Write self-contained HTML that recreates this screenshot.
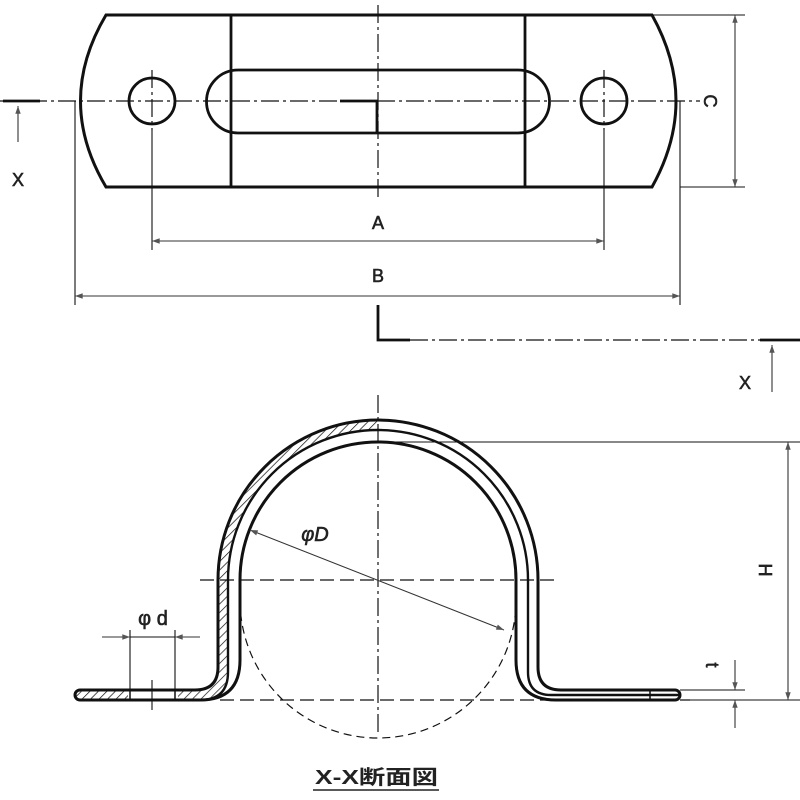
<!DOCTYPE html>
<html><head><meta charset="utf-8"><style>body{margin:0;background:#fff}svg{display:block}</style></head>
<body>
<svg width="800" height="800" viewBox="0 0 800 800" xmlns="http://www.w3.org/2000/svg" font-family="Liberation Sans, sans-serif">
<defs>
<marker id="a" viewBox="0 0 10 10" refX="10" refY="5" markerWidth="9" markerHeight="7" orient="auto-start-reverse"><path d="M0,1.5 L10,5 L0,8.5z" fill="#555"/></marker>
<pattern id="h" width="6" height="6" patternUnits="userSpaceOnUse" patternTransform="rotate(45)"><line x1="0" y1="0" x2="0" y2="6" stroke="#111" stroke-width="1.4"/></pattern>
</defs>
<g fill="none" stroke="#111">
<path d="M106,15 L652,15 Q700,101 652,187 L106,187 Q55,101 106,15Z" stroke-width="3"/>
<line x1="231" y1="15" x2="231" y2="187" stroke-width="2.8"/>
<line x1="525" y1="15" x2="525" y2="187" stroke-width="2.8"/>
<path d="M238,70 L518,70 A31.5,31.5 0 0 1 518,133 L238,133 A31.5,31.5 0 0 1 238,70Z" stroke-width="2.8"/>
<circle cx="152" cy="101" r="23" stroke-width="2.8"/>
<circle cx="604" cy="101" r="23" stroke-width="2.8"/>
<path d="M340,101 L377,101 L377,133" stroke-width="2.8"/>
<g stroke-width="1.2" stroke-dasharray="18,4,3,4">
<line x1="0" y1="101" x2="700" y2="101"/>
<line x1="378" y1="5" x2="378" y2="200"/>
<line x1="152" y1="70" x2="152" y2="130"/>
<line x1="604" y1="70" x2="604" y2="130"/>
<line x1="410" y1="340" x2="770" y2="340"/>
</g>
<g stroke-width="1.1">
<line x1="152" y1="130" x2="152" y2="250"/>
<line x1="604" y1="130" x2="604" y2="250"/>
<line x1="75" y1="101" x2="75" y2="305"/>
<line x1="680" y1="101" x2="680" y2="305"/>
<line x1="652" y1="15" x2="745" y2="15"/>
<line x1="680" y1="187" x2="745" y2="187"/>
<line x1="152" y1="241" x2="604" y2="241" stroke="#333" marker-start="url(#a)" marker-end="url(#a)"/>
<line x1="75" y1="296" x2="680" y2="296" stroke="#333" marker-start="url(#a)" marker-end="url(#a)"/>
<line x1="735" y1="15" x2="735" y2="187" stroke="#333" marker-start="url(#a)" marker-end="url(#a)"/>
<line x1="18" y1="142" x2="18" y2="106" stroke="#333" marker-end="url(#a)"/>
<line x1="772" y1="392" x2="772" y2="345" stroke="#333" marker-end="url(#a)"/>
</g>
<line x1="3" y1="101" x2="40" y2="101" stroke-width="2.8"/>
<path d="M378,305 L378,340 L410,340" stroke-width="2.8"/>
<line x1="760" y1="340" x2="800" y2="340" stroke-width="2.8"/>

<path d="M218,580 L218,667 Q218,690 195,690 L80,690 A5,5 0 0 0 80,700 L200,700 Q228,700 228,672 L228,580 A150,150 0 0 1 378,430 L378,420 A160,160 0 0 0 218,580Z" fill="url(#h)" stroke="none"/>
<rect x="128" y="690" width="50" height="10" fill="#fff" stroke="none"/>
<path d="M80,690 L195,690 Q218,690 218,667 L218,580 A160,160 0 0 1 538,580 L538,667 Q538,690 561,690 L675,690 A5,5 0 0 1 675,700 L556,700 Q516,700 516,660 L516,580 A138,138 0 0 0 240,580 L240,660 Q240,700 200,700 L80,700 A5,5 0 0 1 80,690Z" stroke-width="3"/>
<path d="M200,700 Q228,700 228,672 L228,580 A150,150 0 0 1 528,580 L528,672 Q528,695 551,695 L680,695" stroke-width="2.4"/>
<line x1="130" y1="690" x2="130" y2="700" stroke-width="1.5"/>
<line x1="175" y1="690" x2="175" y2="700" stroke-width="1.5"/>
<line x1="650" y1="690" x2="650" y2="700" stroke-width="1.5"/>
<path d="M240,600 A138,138 0 0 0 516,600" stroke-width="1.2" stroke-dasharray="8,5"/>
<g stroke-width="1.2" stroke-dasharray="18,4,3,4">
<line x1="378" y1="395" x2="378" y2="735"/>
<line x1="200" y1="580" x2="555" y2="580" stroke-dasharray="14,6"/>
<line x1="220" y1="700" x2="690" y2="700" stroke-dasharray="14,6"/>
</g>
<g stroke-width="1.1">
<line x1="378" y1="442" x2="800" y2="442"/>
<line x1="690" y1="700" x2="800" y2="700"/>
<line x1="680" y1="690" x2="745" y2="690"/>
<line x1="130" y1="630" x2="130" y2="690"/>
<line x1="175" y1="630" x2="175" y2="690"/>
<line x1="152" y1="680" x2="152" y2="710"/>
<line x1="130" y1="637" x2="175" y2="637"/>
<line x1="788" y1="442" x2="788" y2="700" stroke="#333" marker-start="url(#a)" marker-end="url(#a)"/>
<line x1="735" y1="660" x2="735" y2="690" stroke="#333" marker-end="url(#a)"/>
<line x1="735" y1="728" x2="735" y2="700" stroke="#333" marker-end="url(#a)"/>
<line x1="102" y1="637" x2="130" y2="637" stroke="#333" marker-end="url(#a)"/>
<line x1="200" y1="637" x2="175" y2="637" stroke="#333" marker-end="url(#a)"/>
<line x1="250" y1="530" x2="504" y2="630" stroke="#333" marker-start="url(#a)" marker-end="url(#a)"/>
</g>
</g>
<g fill="#222" stroke="#222" stroke-width="0.6" font-size="18" text-anchor="middle">
<text x="378" y="229">A</text>
<text x="378" y="282">B</text>
<text x="18" y="186">X</text>
<text x="745" y="389">X</text>
<text transform="translate(710,101) rotate(90)" y="6">C</text>
<text transform="translate(765,570) rotate(90)" y="6">H</text>
<text transform="translate(712,665) rotate(90)" y="6">t</text>
<text x="315" y="541" font-style="italic" font-size="20">φD</text>
<text x="153" y="625" font-size="20">φ d</text>
</g>
<text x="315" y="784" font-size="20" font-weight="bold" fill="#222" font-family="Liberation Sans, Noto Sans CJK JP, sans-serif" textLength="123" lengthAdjust="spacingAndGlyphs">X-X断面図</text>
<line x1="313" y1="790" x2="439" y2="790" stroke="#222" stroke-width="1.6"/>
</svg>
</body></html>
